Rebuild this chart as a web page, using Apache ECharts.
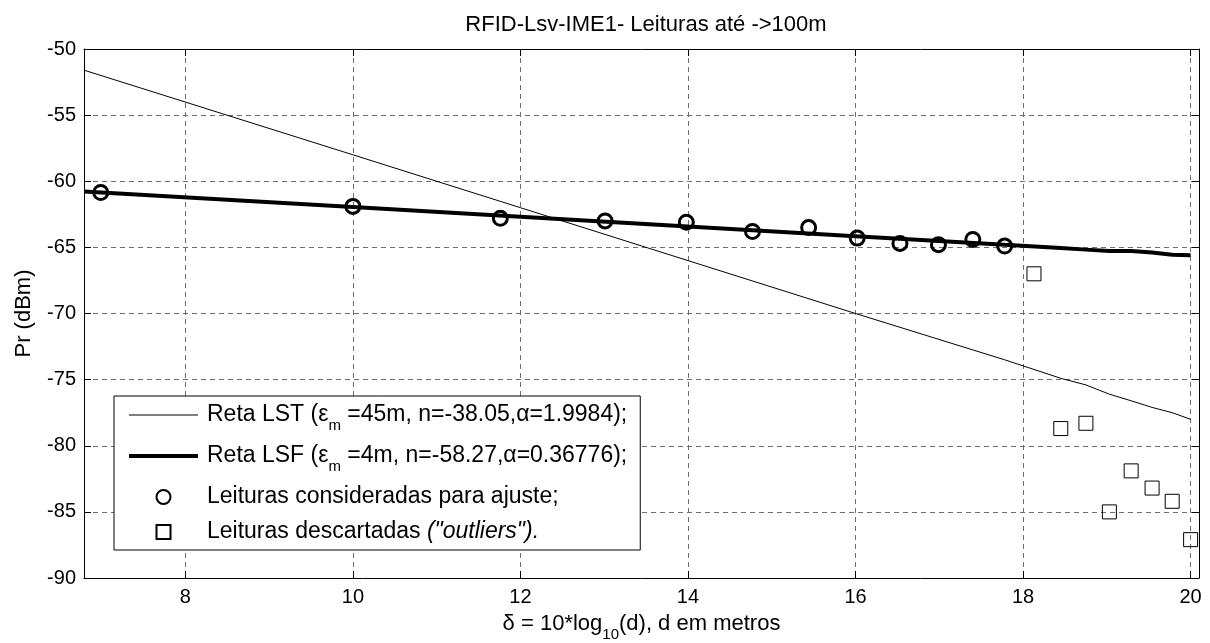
<!DOCTYPE html>
<html>
<head>
<meta charset="utf-8">
<title>RFID-Lsv-IME1 - Leituras até 100m</title>
<script src="https://cdn.jsdelivr.net/npm/echarts@6/dist/echarts.min.js"></script>
<style>
  html, body { margin: 0; padding: 0; background: #fff; }
  #chart { width: 1210px; height: 643px; }
</style>
</head>
<body>
<div id="chart"></div>
<script>
// leituras usadas no ajuste (delta = 10*log10(d))
const fitDelta = [6.99, 10.0, 11.76, 13.01, 13.98, 14.77, 15.44, 16.02, 16.53, 16.99, 17.40, 17.78];
const fitPr = [-60.85, -61.9, -62.8, -63.0, -63.1, -63.8, -63.5, -64.3, -64.7, -64.8, -64.4, -64.9];

// leituras descartadas (outliers)
const outDelta = [18.13, 18.45, 18.75, 19.03, 19.29, 19.54, 19.78, 20.0];
const outPr = [-67.0, -78.7, -78.3, -85.0, -81.9, -83.2, -84.2, -87.1];

// reta LST (fina)
const lstDelta = [6.79, 10.0, 12.0, 14.0, 16.0, 17.78, 18.45, 18.75, 19.03, 19.29, 19.54, 19.78, 20.0];
const lstPr = [-51.6, -58.0, -62.0, -66.0, -70.0, -73.5, -74.9, -75.4, -76.1, -76.6, -77.1, -77.5, -78.0];

// reta LSF (grossa)
const lsfDelta = [6.79, 10.0, 12.0, 14.0, 16.0, 17.78, 18.45, 18.75, 19.03, 19.29, 19.54, 19.78, 20.0];
const lsfPr = [-60.77, -61.95, -62.68, -63.42, -64.15, -64.81, -65.05, -65.17, -65.27, -65.28, -65.38, -65.55, -65.6];

// eixos
const xTicks = [8, 10, 12, 14, 16, 18, 20];
const xRange = [6.79, 20.1];
const yRange = [-90, -50];
const yStep = 5;

// textos da legenda
const seriesNames = ['LST', 'LSF', 'fit', 'out'];
const legendLabels = {
  LST: 'Reta LST (ε{sub|m} =45m, n=-38.05,α=1.9984);',
  LSF: 'Reta LSF (ε{sub|m} =4m, n=-58.27,α=0.36776);',
  fit: 'Leituras consideradas para ajuste;',
  out: 'Leituras descartadas {it|("outliers").}'
};

const FONT = 'Liberation Sans, Arial, sans-serif';

function pairs(xs, ys) {
  return xs.map((x, i) => [x, ys[i]]);
}

const subStyle = { fontSize: 15, fontFamily: FONT, color: '#000', verticalAlign: 'bottom', lineHeight: 15, padding: [0, 0, -6, 0] };
const noSymbol = { color: 'rgba(0,0,0,0)', borderWidth: 0 };

const chart = echarts.init(document.getElementById('chart'));

const gridLine = { show: true, lineStyle: { color: '#6e6e6e', width: 1, type: [5, 4] } };
const axisLine = { show: true, onZero: false, lineStyle: { color: '#000', width: 1 } };

const option = {
  animation: false,
  backgroundColor: '#fff',
  textStyle: { fontFamily: FONT },
  title: {
    text: 'RFID-Lsv-IME1- Leituras até ->100m',
    left: 641,
    top: 9,
    textAlign: 'center',
    textStyle: { fontSize: 22, fontWeight: 'normal', color: '#000', fontFamily: FONT }
  },
  grid: { left: 84, right: 11, top: 49, bottom: 65, outerBoundsMode: 'none' },
  legend: {
    data: [
      { name: seriesNames[0], itemStyle: noSymbol, lineStyle: { color: '#000', width: 1 } },
      { name: seriesNames[1], itemStyle: noSymbol, lineStyle: { color: '#000', width: 4 } },
      { name: seriesNames[2] },
      { name: seriesNames[3], icon: 'path://M0,0L10,0L10,10L0,10Z' }
    ],
    orient: 'vertical',
    left: 114,
    top: 396,
    padding: [7, 13, 6, 13],
    itemWidth: 69,
    itemHeight: 14,
    itemGap: 11,
    selectedMode: false,
    backgroundColor: '#fff',
    borderColor: '#000',
    borderWidth: 1,
    borderRadius: 0,
    formatter: name => legendLabels[name],
    textStyle: {
      fontSize: 23,
      color: '#000',
      fontFamily: FONT,
      lineHeight: 24,
      padding: [0, 0, 0, 4],
      rich: {
        sub: subStyle,
        it: { fontSize: 23, fontStyle: 'italic', fontFamily: FONT, color: '#000', lineHeight: 24 }
      }
    }
  },
  xAxis: [
    {
      type: 'value',
      min: xRange[0],
      max: xRange[1],
      position: 'bottom',
      name: 'δ = 10*log{sub|10}(d), d em metros',
      nameLocation: 'middle',
      nameGap: 28,
      nameTextStyle: {
        fontSize: 22, color: '#000', fontFamily: FONT, lineHeight: 24,
        rich: { sub: subStyle }
      },
      axisLine: axisLine,
      axisTick: { show: true, inside: true, length: 7, customValues: xTicks, lineStyle: { color: '#000' } },
      axisLabel: { show: true, customValues: xTicks, margin: 9, fontSize: 20, color: '#000', fontFamily: FONT },
      splitLine: gridLine
    },
    {
      type: 'value',
      min: xRange[0],
      max: xRange[1],
      position: 'top',
      axisLine: axisLine,
      axisTick: { show: true, inside: true, length: 7, customValues: xTicks, lineStyle: { color: '#000' } },
      axisLabel: { show: false },
      splitLine: { show: false }
    }
  ],
  yAxis: [
    {
      type: 'value',
      min: yRange[0],
      max: yRange[1],
      interval: yStep,
      position: 'left',
      name: 'Pr (dBm)',
      nameLocation: 'middle',
      nameGap: 49,
      nameTextStyle: { fontSize: 22, color: '#000', fontFamily: FONT },
      axisLine: axisLine,
      axisTick: { show: true, inside: true, length: 7, lineStyle: { color: '#000' } },
      axisLabel: { show: true, margin: 8, fontSize: 20, color: '#000', fontFamily: FONT },
      splitLine: gridLine
    },
    {
      type: 'value',
      min: yRange[0],
      max: yRange[1],
      interval: yStep,
      position: 'right',
      axisLine: axisLine,
      axisTick: { show: true, inside: true, length: 7, lineStyle: { color: '#000' } },
      axisLabel: { show: false },
      splitLine: { show: false }
    }
  ],
  series: [
    {
      name: 'LST',
      type: 'line',
      data: pairs(lstDelta, lstPr),
      symbol: 'none',
      lineStyle: { color: '#000', width: 1 },
      itemStyle: { color: '#000' },
      z: 2
    },
    {
      name: 'LSF',
      type: 'line',
      data: pairs(lsfDelta, lsfPr),
      symbol: 'none',
      lineStyle: { color: '#000', width: 4 },
      itemStyle: { color: '#000' },
      z: 3
    },
    {
      name: 'fit',
      type: 'scatter',
      data: pairs(fitDelta, fitPr),
      symbol: 'circle',
      symbolSize: 14,
      itemStyle: { color: 'rgba(0,0,0,0)', borderColor: '#000', borderWidth: 3, opacity: 1 },
      z: 4
    },
    {
      name: 'out',
      type: 'scatter',
      data: pairs(outDelta, outPr),
      symbol: 'rect',
      symbolSize: 14,
      itemStyle: { color: 'rgba(0,0,0,0)', borderColor: '#000', borderWidth: 1, opacity: 1 },
      z: 4
    }
  ]
};

chart.setOption(option);
</script>
</body>
</html>
